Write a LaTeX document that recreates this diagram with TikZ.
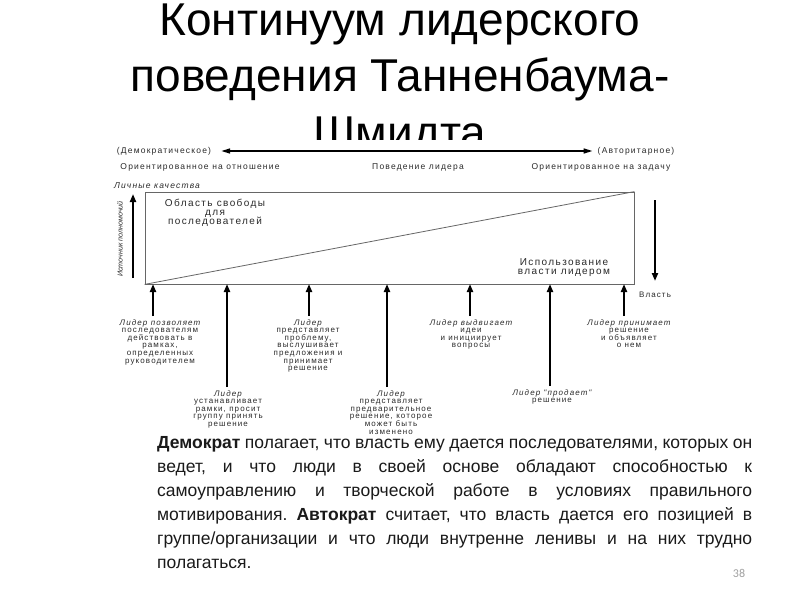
\documentclass[tikz,border=0pt]{standalone}
\usepackage{fontspec}
\setmainfont{Liberation Sans}
\newfontfamily\diafont[LetterSpace=14]{Liberation Sans}
\newfontfamily\pagefont{Carlito}
\usetikzlibrary{arrows.meta}
\definecolor{ink}{HTML}{1A1A1A}
\definecolor{dia}{HTML}{2A2A2A}
\definecolor{boxline}{HTML}{666666}
\definecolor{pagegray}{HTML}{A0A0A0}
\newcommand\tightlns{\lineskiplimit=-10pt\relax}
\begin{document}
\begin{tikzpicture}[x=1pt,y=-1pt,
  toplabel/.style={font=\diafont\fontsize{8.5}{9}\selectfont, text=dia, inner sep=0},
  lowlabel/.style={font=\diafont\fontsize{8}{7.6}\selectfont\tightlns, text=dia, inner sep=0, align=center, anchor=north},
  boxlabel/.style={font=\diafont\fontsize{10}{9.2}\selectfont\tightlns, text=dia, inner sep=0, align=center},
  uparr/.style={line width=2pt, draw=black, -{Triangle[length=8pt,width=6pt]}, shorten <=3pt},
  bigarr/.style={line width=2pt, draw=black, -{Triangle[length=8pt,width=6pt]}},
  dblarr/.style={line width=1.5pt, draw=black, {Triangle[length=9pt,width=5pt]}-{Triangle[length=9pt,width=5pt]}}
]
\useasboundingbox (0,0) rectangle (800,600);
\fill[white] (0,0) rectangle (800,600);

% title
\node[anchor=north, align=center, inner sep=0, font=\fontsize{46}{56.5}\selectfont, text=black] (title) at (400,3.5)
  {Континуум лидерского\\поведения Танненбаума-\\Шмидта};
% diagram image covers the title's last line
\fill[white] (100,140) rectangle (700,438);

% top row
\node[toplabel] (demo) at (164,151) {(Демократическое)};
\node[toplabel] (auth) at (636,151) {(Авторитарное)};
\draw[dblarr] ([xshift=10pt]demo.east) -- ([xshift=-5pt]auth.west);
\node[toplabel] (relat) at (200,167) {Ориентированное на отношение};
\node[toplabel] (behav) at (418,167) {Поведение лидера};
\node[toplabel] (task) at (601,167) {Ориентированное на задачу};
\node[toplabel, font=\diafont\itshape\fontsize{8.5}{9}\selectfont] (pers) at (157,186) {Личные качества};

% box and diagonal
\node[draw=boxline, line width=0.8pt, minimum width=489pt, minimum height=92pt, inner sep=0] (box) at (389.5,238) {};
\draw[boxline, line width=0.8pt] (box.south west) -- (box.north east);
\node[boxlabel] (free) at (215,213) {Область свободы\\для\\последователей};
\node[boxlabel] (use) at (564,267.5) {Использование\\власти лидером};

% source of authority
\node[rotate=90, inner sep=0, text=dia, font=\itshape\fontsize{7.2}{8}\selectfont] (src) at (120,239) {Источник полномочий};
\coordinate (authbot) at (133,278);
\coordinate (authtop) at (133,194);
\draw[bigarr] (authbot) -- (authtop);

% power arrow
\node[toplabel, font=\diafont\fontsize{8}{9}\selectfont] (vlast) at (655,295) {Власть};
\coordinate (pwT) at (655,200);
\coordinate (pwB) at (655,281);
\draw[bigarr] (pwT) -- (pwB);

% arrow targets on the box bottom
\coordinate (A1) at (153,284);
\coordinate (A2) at (227,284);
\coordinate (A3) at (309,284);
\coordinate (A4) at (387,284);
\coordinate (A5) at (470,284);
\coordinate (A6) at (550,284);
\coordinate (A7) at (624,284);

% labels
\node[lowlabel] (L1) at (160,319) {\itshape Лидер позволяет\\последователям\\действовать в\\рамках,\\определенных\\руководителем};
\node[lowlabel] (L2) at (228,390) {\itshape Лидер\\устанавливает\\рамки, просит\\группу принять\\решение};
\node[lowlabel] (L3) at (308,319) {\itshape Лидер\\представляет\\проблему,\\выслушивает\\предложения и\\принимает\\решение};
\node[lowlabel] (L4) at (391,390) {\itshape Лидер\\представляет\\предварительное\\решение, которое\\может быть\\изменено};
\node[lowlabel] (L5) at (471,319) {\itshape Лидер выдвигает\\идеи\\и инициирует\\вопросы};
\node[lowlabel] (L6) at (552,389) {\itshape Лидер "продает"\\решение};
\node[lowlabel] (L7) at (629,319) {\itshape Лидер принимает\\решение\\и объявляет\\о нем};

\draw[uparr] (L1.north -| A1) -- (A1);
\draw[uparr] (L2.north -| A2) -- (A2);
\draw[uparr] (L3.north -| A3) -- (A3);
\draw[uparr] (L4.north -| A4) -- (A4);
\draw[uparr] (L5.north -| A5) -- (A5);
\draw[uparr] (L6.north -| A6) -- (A6);
\draw[uparr] (L7.north -| A7) -- (A7);

% body text
\node[anchor=north west, inner sep=0, text width=595pt, align=justify, text=ink,
      font=\fontsize{17.5}{24}\selectfont] (body) at (157,436)
{\frenchspacing\hyphenpenalty=10000\textbf{Демократ} полагает, что власть ему дается последователями, которых он\linebreak
ведет, и что люди в своей основе обладают способностью к\linebreak
самоуправлению и творческой работе в условиях правильного\linebreak
мотивирования. \textbf{Автократ} считает, что власть дается его позицией в\linebreak
группе/организации и что люди внутренне ленивы и на них трудно\linebreak
полагаться.};

\node[inner sep=0, text=pagegray, font=\pagefont\fontsize{12}{14}\selectfont] (page) at (739,573) {38};
\end{tikzpicture}
\end{document}
